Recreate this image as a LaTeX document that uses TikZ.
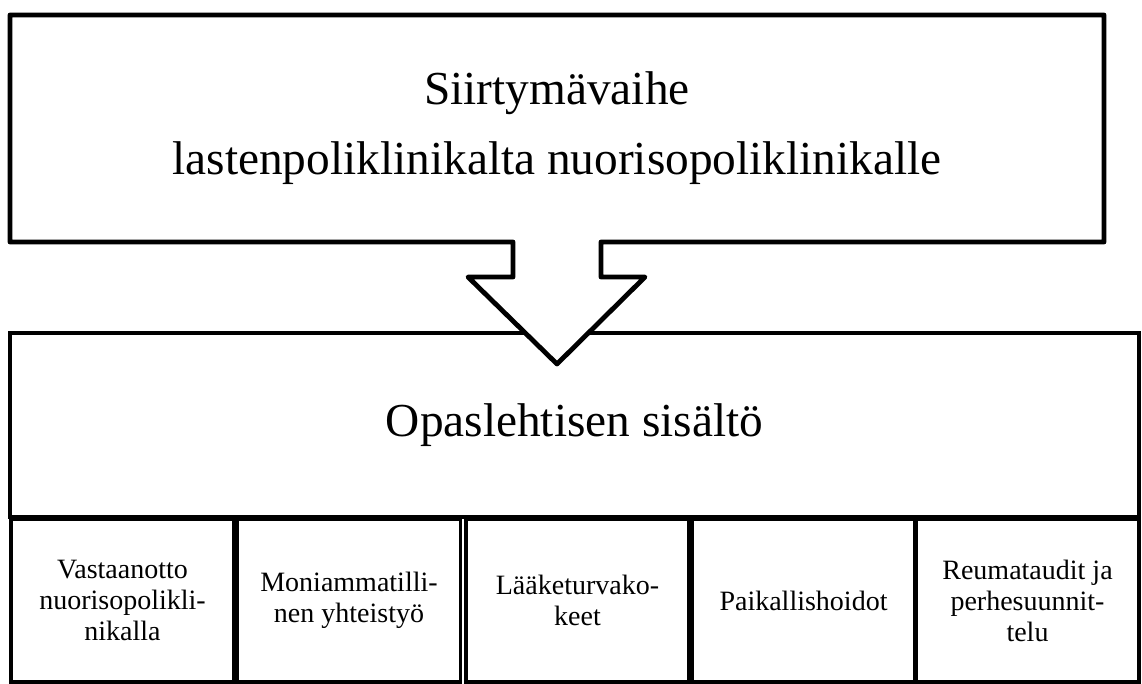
\documentclass[tikz,border=0pt]{standalone}
\usepackage{fontspec}
\setmainfont{Liberation Serif}
\begin{document}
\begin{tikzpicture}[x=0.75pt,y=-0.75pt,
  bigtext/.style={font=\fontsize{35.5}{52.5}\selectfont, align=center},
  subbox/.style={draw, line width=2.6pt, minimum width=167pt, minimum height=122pt,
     inner sep=2pt, align=center, font=\fontsize{21}{23.3}\selectfont},
  mainbox/.style={draw, line width=3pt, minimum width=846.75pt, minimum height=138pt,
     font=\fontsize{35.5}{42}\selectfont},
  topshape/.style={draw, line width=3.6pt, fill=white, line join=round}]
\useasboundingbox (0,0) rectangle (1142,684);
% lower box
\node[mainbox] (main) at (574.5,425) {Opaslehtisen sisältö};
% sub boxes
\node[subbox] (s1) at (122.5,600.5) {Vastaanotto\\nuorisopolikli-\\nikalla};
\node[subbox] (s2) at (349,600.5) {Moniammatilli-\\nen yhteistyö};
\node[subbox] (s3) at (577.5,600.5) {Lääketurvako-\\keet};
\node[subbox] (s4) at (803.5,600.5) {Paikallishoidot};
\node[subbox] (s5) at (1027.5,600.5) {Reumataudit ja\\perhesuunnit-\\telu};
% top box with arrow
\draw[topshape] (10,15) -- (1104,15) -- (1104,242) -- (601,242) -- (601,277)
  -- (645,277) -- (557,364) -- (468,277) -- (513,277) -- (513,242) -- (10,242) -- cycle;
\node[bigtext] (title) at (557,128) {Siirtymävaihe\\lastenpoliklinikalta nuorisopoliklinikalle};
\end{tikzpicture}
\end{document}
